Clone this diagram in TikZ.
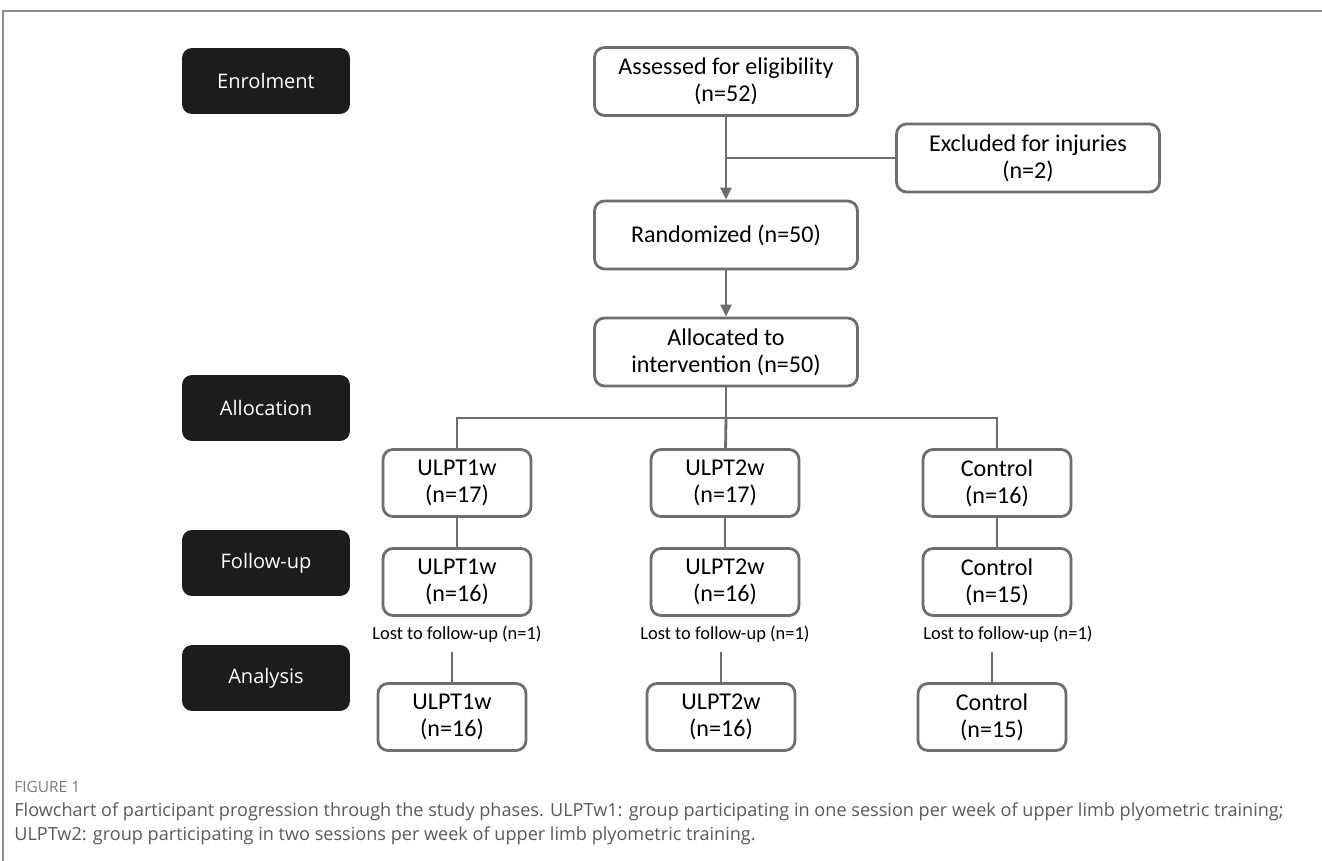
\documentclass[tikz,border=0pt]{standalone}
\usepackage{fontspec}
\setmainfont{Carlito}
\newfontfamily\phasefont{Open Sans}
\newfontfamily\capfont{Open Sans}
\usepackage{xcolor}
\usepackage{tikz}
\usetikzlibrary{arrows.meta, positioning, calc}
\definecolor{edge}{HTML}{6E6E6E}
\definecolor{phasebg}{HTML}{1C1C1C}
\definecolor{framegray}{HTML}{8C8C8C}
\definecolor{captext}{HTML}{5A5A5A}

\begin{document}
\begin{tikzpicture}[
  x=0.02cm, y=-0.02cm,
  phase/.style={rectangle, rounded corners=0.2cm, fill=phasebg, text=white, minimum width=3.36cm, minimum height=1.32cm, align=center, font=\phasefont\fontsize{11.4}{13.5}\selectfont},
  wide/.style={rectangle, rounded corners=0.2cm, draw=edge, line width=1.6pt, fill=white, minimum width=5.26cm, minimum height=1.36cm, align=center, font=\fontsize{13.7}{15.3}\selectfont},
  group/.style={wide, minimum width=2.96cm, minimum height=1.34cm},
  lost/.style={inner sep=1pt, font=\fontsize{10.5}{12}\selectfont},
  link/.style={draw=edge, line width=1.6pt},
  arrow/.style={link, -{Triangle[length=0.24cm, width=0.22cm]}},
]
  \useasboundingbox (0,0) rectangle (1322,861);
  \fill[white] (0,0) rectangle (1322,861);
  \draw[framegray, line width=0.8pt] (1322,11) -- (3,11) -- (3,861);

  % phases
  \node[phase] (enrol) at (266,81) {Enrolment};
  \node[phase] (allocation) at (266,408) {Allocation};
  \node[phase] (followup) at (266,563) {Follow-up};
  \node[phase] (analysis) at (266,678) {Analysis};

  % enrolment and randomisation
  \node[wide] (assessed) at (726,81.5) {Assessed for eligibility\\(n=52)};
  \node[wide] (excluded) at (1028,158) {Excluded for injuries\\(n=2)};
  \node[wide] (rand) at (726,235) {Randomized (n=50)};
  \node[wide] (alloc) at (726,352) {Allocated to\\intervention (n=50)};

  \draw[arrow] (assessed) -- (rand);
  \draw[link] (assessed.south |- excluded.west) -- (excluded.west);
  \draw[arrow] (rand) -- (alloc);

  % groups
  \node[group] (g1) at (457,483) {ULPT1w\\(n=17)};
  \node[group] (g2) at (725,483) {ULPT2w\\(n=17)};
  \node[group] (g3) at (997,483) {Control\\(n=16)};
  \node[group] (f1) at (457,582) {ULPT1w\\(n=16)};
  \node[group] (f2) at (725,582) {ULPT2w\\(n=16)};
  \node[group] (f3) at (997,582) {Control\\(n=15)};
  \node[lost] (lost1) at (457,634) {Lost to follow-up (n=1)};
  \node[lost] (lost2) at (725,634) {Lost to follow-up (n=1)};
  \node[lost] (lost3) at (1008,634) {Lost to follow-up (n=1)};
  \node[group] (a1) at (452,717) {ULPT1w\\(n=16)};
  \node[group] (a2) at (721,717) {ULPT2w\\(n=16)};
  \node[group] (a3) at (992,717) {Control\\(n=15)};

  \coordinate (split) at (726,418);
  \draw[link] (alloc) -- (split);
  \draw[link] (g1.north) |- (split) -| (g3.north);
  \draw[link] (split) -- (g2);
  \foreach \i in {1,2,3} {
    \draw[link] (g\i) -- (f\i);
    \draw[link, shorten <=0.16cm] (lost\i.south -| a\i.north) -- (a\i.north);
  }

  % caption
  \node[anchor=west, inner sep=0pt, text=captext!80, font=\capfont\fontsize{8.8}{10}\selectfont] (figlabel) at (14,787) {FIGURE 1};
  \node[anchor=north west, inner sep=0pt, align=left, text=captext, font=\capfont\fontsize{10.3}{13.6}\selectfont] (caption) at (14,802) {Flowchart of participant progression through the study phases. ULPTw1: group participating in one session per week of upper limb plyometric training;\\ULPTw2: group participating in two sessions per week of upper limb plyometric training.};
\end{tikzpicture}
\end{document}
